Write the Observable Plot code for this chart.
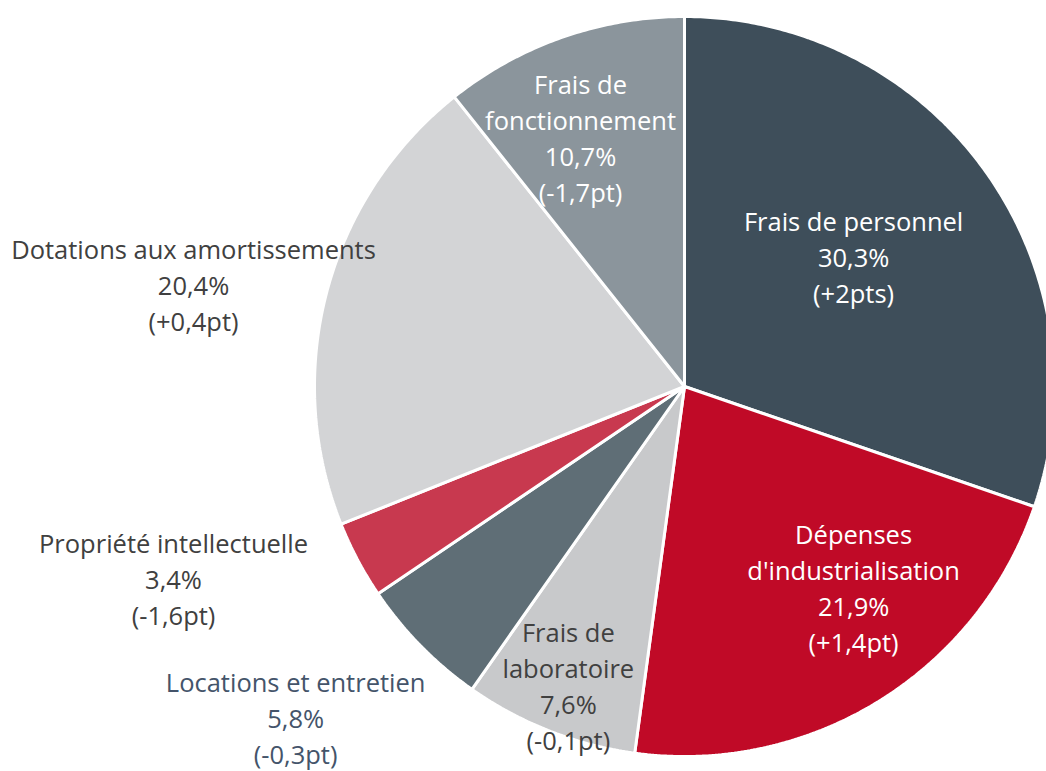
<!DOCTYPE html>
<html>
<head>
<meta charset="utf-8">
<script src="https://cdn.jsdelivr.net/npm/d3@7"></script>
<script src="https://cdn.jsdelivr.net/npm/@observablehq/plot@0.6"></script>
<style>
  html, body { margin: 0; padding: 0; background: #fff; }
  #chart svg { display: block; font-variant-ligatures: none; }
</style>
</head>
<body>
<div id="chart"></div>
<script>
// ---- Data ----
const categories = [
  "Frais de personnel",
  "Dépenses d'industrialisation",
  "Frais de laboratoire",
  "Locations et entretien",
  "Propriété intellectuelle",
  "Dotations aux amortissements",
  "Frais de fonctionnement"
];
const shares = [30.3, 21.9, 7.6, 5.8, 3.4, 20.4, 10.7];
const changes = ["(+2pts)", "(+1,4pt)", "(-0,1pt)", "(-0,3pt)", "(-1,6pt)", "(+0,4pt)", "(-1,7pt)"];
const labelNames = [
  "Frais de personnel",
  "Dépenses\nd'industrialisation",
  "Frais de\nlaboratoire",
  "Locations et entretien",
  "Propriété intellectuelle",
  "Dotations aux amortissements",
  "Frais de\nfonctionnement"
];

// ---- Style / layout ----
const colors = ["#3e4e5a", "#c00a27", "#c8c9cb", "#5f6e76", "#c8394f", "#d3d4d6", "#8b959c"];
const textColors = ["#ffffff", "#ffffff", "#404040", "#44546a", "#404040", "#404040", "#ffffff"];
// label anchors in pie-radius units (center = 0,0; radius = 1)
const labelAnchors = [[0.457, 0.354], [0.457, -0.541], [-0.314, -0.805], [-1.051, -0.892], [-1.381, -0.516], [-1.327, 0.278], [-0.281, 0.676]];

const W = 1046, H = 771, CX = 684, CY = 386, R = 370;

// ---- Build slice outlines from data ----
const arcs = d3.pie().sort(null).value(d => d)(shares);
const pts = [];
arcs.forEach((a, i) => {
  const name = categories[i];
  pts.push({name, x: 0, y: 0});
  const n = Math.max(2, Math.ceil((a.endAngle - a.startAngle) / (Math.PI / 360)));
  for (let k = 0; k <= n; k++) {
    const t = a.startAngle + (a.endAngle - a.startAngle) * k / n;
    pts.push({name, x: Math.sin(t), y: Math.cos(t)});
  }
  pts.push({name, x: 0, y: 0});
});

const labels = categories.map((c, i) => ({
  name: c,
  text: `${labelNames[i]}\n${String(shares[i]).replace(".", ",")}%\n${changes[i]}`,
  x: labelAnchors[i][0],
  y: labelAnchors[i][1],
  color: textColors[i]
}));

const chart = Plot.plot({
  width: W,
  height: H,
  margin: 0,
  x: {domain: [-CX / R, (W - CX) / R], range: [0, W], axis: null},
  y: {domain: [-(H - CY) / R, CY / R], range: [H, 0], axis: null},
  color: {domain: categories, range: colors},
  style: {fontFamily: "'Open Sans', Lato, sans-serif", background: "#fff"},
  marks: [
    Plot.line(pts, {x: "x", y: "y", z: "name", fill: "name", stroke: "white", strokeWidth: 3, strokeLinejoin: "miter", curve: "linear"}),
    Plot.text(labels, {x: "x", y: "y", text: "text", fill: d => d.color, fontSize: 25.5, lineHeight: 1.41, textAnchor: "middle", lineAnchor: "middle"})
  ]
});
document.getElementById("chart").appendChild(chart);
</script>
</body>
</html>
